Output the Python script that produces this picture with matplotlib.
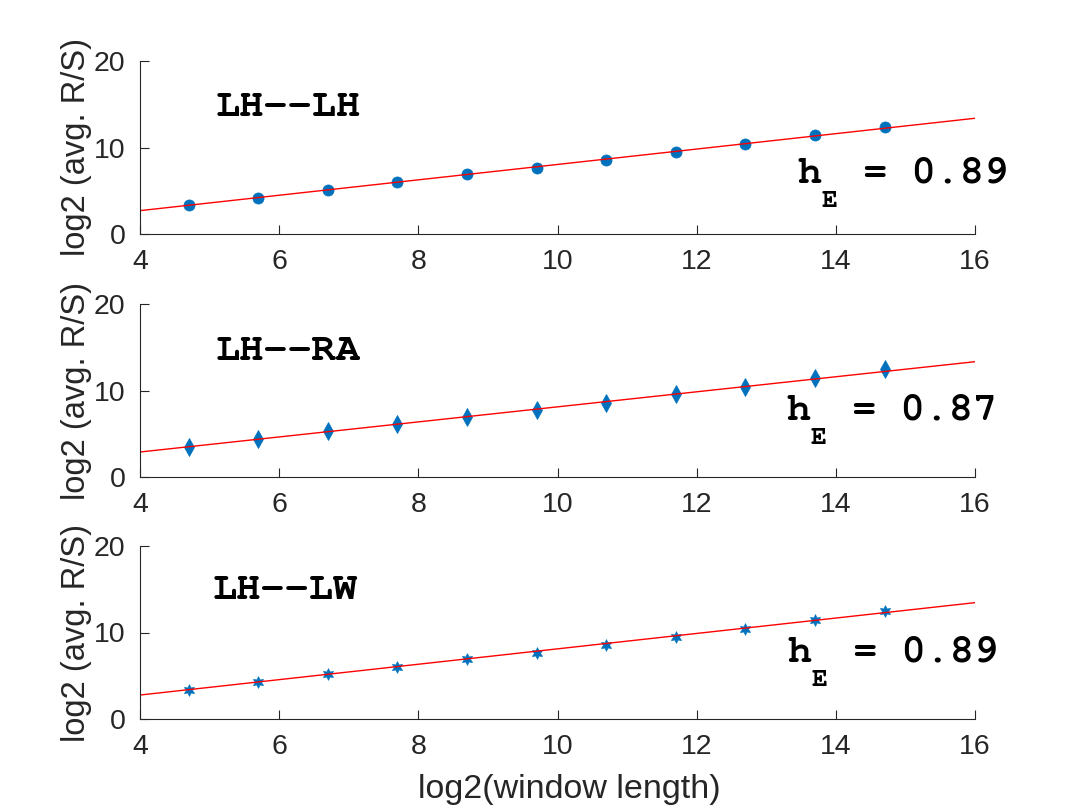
import numpy as np
import matplotlib
matplotlib.use("Agg")
import matplotlib.pyplot as plt

# window sizes (log2) shared by all panels
log2_window = [4.7, 5.7, 6.7, 7.7, 8.7, 9.7, 10.7, 11.7, 12.7, 13.7, 14.7]

# log2 of average R/S for each pair
rs_lh_lh = [3.3, 4.2, 5.1, 6.0, 6.9, 7.6, 8.55, 9.45, 10.35, 11.4, 12.4]
rs_lh_ra = [3.5, 4.4, 5.3, 6.1, 6.95, 7.7, 8.6, 9.55, 10.45, 11.45, 12.45]
rs_lh_lw = [3.35, 4.25, 5.15, 6.05, 6.95, 7.65, 8.6, 9.5, 10.4, 11.5, 12.5]

# fitted lines: slope (hurst exponent) and intercept
hurst = [0.89, 0.87, 0.89]
intercepts = [-0.86, -0.59, -0.79]

pair_names = ["LH--LH", "LH--RA", "LH--LW"]

BLUE = "#0072BD"
AX_COL = "#262626"
MONO = ['Nimbus Mono PS', 'FreeMono', 'Courier New', 'Liberation Mono']

plt.rcParams['font.family'] = ['Liberation Sans', 'DejaVu Sans']

fig = plt.figure(figsize=(10.8, 8.09), dpi=100)

left, width, height = 140 / 1080, 835 / 1080, 173 / 809
bottoms = [1 - 234 / 809, 1 - 477 / 809, 1 - 719 / 809]
markers = [dict(marker='o', ms=8),
           dict(marker='d', ms=9),
           dict(marker=(6, 1, 0), ms=8.5)]
name_pos = [(5.08, 13.6), (5.08, 13.55), (5.04, 13.9)]
h_pos = [(13.45, 5.9), (13.29, 6.6), (13.31, 6.6)]
series = [rs_lh_lh, rs_lh_ra, rs_lh_lw]

xfit = np.array([4, 16])
for i in range(3):
    ax = fig.add_axes([left, bottoms[i], width, height])
    ax.plot(log2_window, series[i], linestyle='none', color=BLUE,
            mec=BLUE, mew=0.5, **markers[i])
    ax.plot(xfit, hurst[i] * xfit + intercepts[i], color='red', lw=1)
    ax.set_xlim(4, 16)
    ax.set_ylim(0, 20)
    ax.set_xticks(range(4, 17, 2))
    ax.set_yticks([0, 10, 20])
    for s in ['top', 'right']:
        ax.spines[s].set_visible(False)
    for s in ['left', 'bottom']:
        ax.spines[s].set_color(AX_COL)
        ax.spines[s].set_linewidth(0.8)
    ax.tick_params(direction='in', length=6.5, width=0.8, color=AX_COL,
                   labelcolor=AX_COL, labelsize=20.5)
    ax.tick_params(axis='x', pad=11)
    ax.tick_params(axis='y', pad=10.5)
    ax.set_ylabel("log2 (avg. R/S)", fontsize=23.5, color=AX_COL)
    ax.yaxis.set_label_coords(-0.058, 0.5)

    ax.text(name_pos[i][0], name_pos[i][1], pair_names[i],
            family=MONO, weight='bold', fontsize=29, va='baseline')
    # h with a lowered subscript E, then the value
    hx, hy = h_pos[i]
    ax.text(hx, hy, "h", family=MONO, weight='bold', fontsize=29, va='baseline')
    ax.annotate("E", (hx, hy), xytext=(17.4, -17), textcoords='offset points',
                family=MONO, weight='bold', fontsize=19, va='baseline')
    ax.annotate(f" = {hurst[i]:.2f}", (hx, hy), xytext=(30, 0),
                textcoords='offset points', family=MONO, weight='bold',
                fontsize=29, va='baseline')
    if i == 2:
        ax.set_xlabel("log2(window length)", fontsize=24.5, color=AX_COL)
        ax.xaxis.set_label_coords(0.514, -0.32)

fig.savefig("out.png", dpi=100)
